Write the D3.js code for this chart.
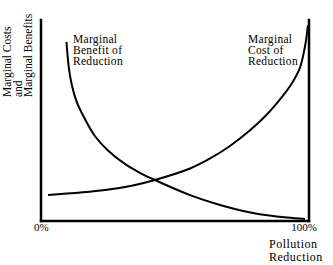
<!DOCTYPE html>
<html>
<head>
<meta charset="utf-8">
<script src="https://cdn.jsdelivr.net/npm/d3@7"></script>
<style>
  body { margin: 0; background: #fff; }
  svg text { font-family: "Liberation Serif", "DejaVu Serif", "Times New Roman", serif; fill: #000; }
</style>
</head>
<body>
<svg id="chart"></svg>
<script>
// pollution reduction (%) vs marginal value (arbitrary units, 0-100)
var benefitX = [9.5, 10.4, 11.5, 13.3, 16.4, 20.1, 25.0, 31.3, 36.9, 42.5, 55.6, 66.8, 79.1, 91.8, 98.5];
var benefitY = [89.1, 76.1, 67.7, 59.4, 50.7, 42.3, 35.1, 28.4, 24.0, 20.4, 12.9, 8.0, 4.0, 1.7, 1.0];
var costX = [2.6, 23.9, 34.3, 42.5, 55.6, 63.1, 70.5, 78.0, 84.0, 90.3, 93.7, 96.6, 98.1, 98.9, 99.6];
var costY = [12.9, 15.4, 17.7, 20.4, 26.1, 31.1, 37.3, 45.1, 52.6, 62.4, 68.7, 76.2, 84.1, 90.0, 97.5];
var xTickLabels = ["0%", "100%"];
var yTitle = ["Marginal Costs", "and", "Marginal Benefits"];
var xTitle = ["Pollution", "Reduction"];
var benefitLabel = ["Marginal", "Benefit of", "Reduction"];
var costLabel = ["Marginal", "Cost of", "Reduction"];

function init(){
    var width = 333, height = 265;
    var svg = d3.select("#chart")
        .attr("width", width)
        .attr("height", height);

    //scales
    var x = d3.scaleLinear().domain([0, 100]).range([41, 309]);
    var y = d3.scaleLinear().domain([0, 100]).range([221, 20]);

    //frame: left, bottom, right
    var frame = [
        [[0, 100], [0, 0]],
        [[0, 0], [100, 0]],
        [[100, 0], [100, 100]]
    ];
    svg.selectAll(".frame")
        .data(frame)
        .enter()
        .append("line")
        .attr("class", "frame")
        .attr("x1", function(d) { return x(d[0][0]); })
        .attr("y1", function(d) { return y(d[0][1]); })
        .attr("x2", function(d) { return x(d[1][0]); })
        .attr("y2", function(d) { return y(d[1][1]); })
        .attr("stroke", "#000")
        .attr("stroke-width", 2.5)
        .attr("stroke-linecap", "square");

    //curves
    var line = d3.line()
        .x(function(d) { return x(d[0]); })
        .y(function(d) { return y(d[1]); })
        .curve(d3.curveCatmullRom.alpha(0.5));

    var benefit = benefitX.map(function(v, i) { return [v, benefitY[i]]; });
    var cost = costX.map(function(v, i) { return [v, costY[i]]; });

    svg.selectAll(".curve")
        .data([benefit, cost])
        .enter()
        .append("path")
        .attr("class", "curve")
        .attr("d", line)
        .attr("fill", "none")
        .attr("stroke", "#000")
        .attr("stroke-width", 2);

    //tick labels
    svg.append("text")
        .attr("x", x(0) - 7)
        .attr("y", 231)
        .attr("font-size", 11)
        .text(xTickLabels[0]);
    svg.append("text")
        .attr("x", x(100) + 8)
        .attr("y", 231)
        .attr("text-anchor", "end")
        .attr("font-size", 11)
        .text(xTickLabels[1]);

    //x title
    svg.append("g").selectAll("text")
        .data(xTitle)
        .enter()
        .append("text")
        .attr("x", 269)
        .attr("y", function(d, i) { return 248 + i * 13; })
        .attr("font-size", 12)
        .attr("letter-spacing", 0.5)
        .text(function(d) { return d; });

    //y title
    svg.append("g").selectAll("text")
        .data(yTitle)
        .enter()
        .append("text")
        .attr("transform", function(d, i) {
            return "translate(" + (11 + i * 10.5) + ",97) rotate(-90)";
        })
        .attr("font-size", 11.5)
        .text(function(d) { return d; });

    //curve labels
    svg.append("g").selectAll("text")
        .data(benefitLabel)
        .enter()
        .append("text")
        .attr("x", 73)
        .attr("y", function(d, i) { return 43 + i * 11; })
        .attr("font-size", 11.5)
        .attr("letter-spacing", 0.3)
        .text(function(d) { return d; });

    svg.append("g").selectAll("text")
        .data(costLabel)
        .enter()
        .append("text")
        .attr("x", 248)
        .attr("y", function(d, i) { return 43 + i * 11; })
        .attr("font-size", 11.5)
        .attr("letter-spacing", 0.3)
        .text(function(d) { return d; });
}
window.onload = init;
</script>
</body>
</html>
